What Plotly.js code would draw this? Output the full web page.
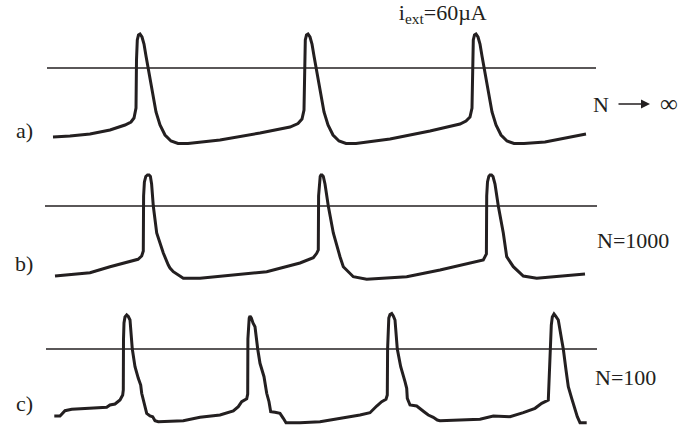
<!DOCTYPE html>
<html>
<head>
<meta charset="utf-8">
<script src="https://cdn.plot.ly/plotly-3.0.1.min.js"></script>
<style>html,body{margin:0;padding:0;background:#fff;}#plot{width:694px;height:432px;}</style>
</head>
<body>
<div id="plot"></div>
<script>
// time (arbitrary units) and membrane potential (mV, relative to threshold line)
var tA = [6,23,43,63,78,84,87,89,
  89.5,90.3,91.5,93,95,97,99,101,105,109,113,118,124,131,141,
  173,213,243,251,255,257,
  257.5,258.3,259.5,261,263,265,267,269,273,277,281,286,292,299,309,
  343,383,413,419,423,425,
  425.5,426.3,427.5,429,431,433,435,437,441,445,449,454,460,467,477,
  498,539];
var vA = [-69,-68,-66,-62,-57,-54,-50,-40,
  8,28,33,34,31,24,12,0,-24,-44,-57,-67,-73,-75.5,-75.5,
  -72,-65,-59,-55.5,-51,-42,
  8,28,33,34,31,24,12,0,-24,-44,-57,-67,-73,-75.5,-75.5,
  -71,-63,-56,-53,-49,-40,
  8,28,33,34,31,24,12,0,-24,-44,-57,-67,-73,-75.5,-75.5,
  -74,-66];

var tB = [8,43,63,91,94.7,96.3,
  96.6,97.4,98.8,100.5,102,103.4,104.6,106.3,109.7,116.3,121.3,123,126.3,136.3,153,
  219.7,253,266.3,269.7,271.3,
  271.6,272.3,273.2,274,275,276.3,278,281.3,286.3,293,296.3,306.3,319.7,
  359.7,393,436.3,439.4,
  439.7,440.5,441.8,443,444.5,446,448,451.3,456.3,459.7,466.3,476.3,489.7,509.7,538];
var vB = [-70,-66.7,-60.7,-53.3,-50,-45,
  10,24,29.5,31,31,29.5,22,0,-27,-47,-59,-62,-65.7,-72.3,-72.3,
  -65.7,-57,-51.7,-47.3,-44,
  10,24,29.5,31,31,29.5,22,0,-27,-50.7,-60.7,-70.7,-73.3,
  -70.7,-64,-54,-48,
  10,24,29.5,31,31,29.5,22,0,-27,-50.7,-60.7,-70,-72.3,-70.7,-68];

var tC = [7.3,13,18,24.7,59.7,63,68,73,75.7,76.3,
  76.5,77,78,79.7,81.3,83,85.3,88,91.3,93.7,94.7,96.3,98,99.7,103,105.7,108,111.3,136.3,153,173,186.3,191.3,194.7,199.7,200.7,
  200.9,201.4,202.2,203,204.3,206,208,210.7,213,217,219.7,222,223.7,228,233,236.3,239,253,273,313,323,329.7,334.7,339,340.3,
  340.6,341,341.8,343,344.7,346.3,348,350.3,353.7,358,359.7,360.3,363,369.7,373,377,381.3,386.3,390.3,393,433,446.3,463,476.3,488,494.7,501.3,502,503.7,
  504.3,505.3,507,508.5,511.3,514.7,516.3,519,521.3,524.7,528,530.3,533,539.7];
var vC = [-67,-67,-61.7,-60.3,-58.3,-56,-55,-51,-46,-41,
  10,26,32,34,32.5,29,0,-17.7,-29.3,-36,-44.3,-51,-57.7,-64.3,-67,-67.7,-71.7,-72.7,-71.7,-68.3,-66,-62,-57.7,-52.7,-49.7,-45,
  10,25,31,33,31,26,22.3,0,-14.3,-27.7,-44.3,-52.7,-62.7,-63.3,-64.3,-69.3,-73.7,-73.7,-72.7,-66,-63.7,-57,-52.7,-50.3,-46,
  0,22,31,34.5,35.5,33,29,0,-17.7,-32.7,-39.3,-49.3,-56,-57,-59.3,-62.7,-66,-68.3,-71,-71.7,-70.3,-67,-67.7,-63.7,-59.3,-54.3,-51,-31,2.3,
  24,32,35,33,29,9,0,-21,-37.7,-49.3,-61,-67.7,-73.7,-73.7];

// threshold lines (time span, level)
var thrA_t = [0, 549], thrB_t = [-2, 550], thrC_t = [-1, 550];
var thrLevel = [0, 0];

var panelLabels = ['a)', 'b)', 'c)'];
var sizeLabels = ['N', 'N=1000', 'N=100'];
var infinityLabel = '\u221E';
var titleText = 'i<sub>ext</sub>=60\u00B5A';

var ink = '#231f20';
var serif = 'Liberation Serif, Times New Roman, serif';
var spike = {color: ink, width: 3, shape: 'linear'};
var thin = {color: ink, width: 1.5};

var data = [
  {x: thrA_t, y: thrLevel, xaxis: 'x', yaxis: 'y', mode: 'lines', line: thin, hoverinfo: 'skip'},
  {x: thrB_t, y: thrLevel, xaxis: 'x', yaxis: 'y2', mode: 'lines', line: thin, hoverinfo: 'skip'},
  {x: thrC_t, y: thrLevel, xaxis: 'x', yaxis: 'y3', mode: 'lines', line: thin, hoverinfo: 'skip'},
  {x: tA, y: vA, xaxis: 'x', yaxis: 'y', mode: 'lines', line: spike},
  {x: tB, y: vB, xaxis: 'x', yaxis: 'y2', mode: 'lines', line: spike},
  {x: tC, y: vC, xaxis: 'x', yaxis: 'y3', mode: 'lines', line: spike}
];

var hidden = {visible: false, fixedrange: true};
var textFont = {family: serif, size: 22, color: ink};
var notes = [
  {text: panelLabels[0], x: 0.0346, y: 0.699},
  {text: panelLabels[1], x: 0.0346, y: 0.391},
  {text: panelLabels[2], x: 0.0346, y: 0.067},
  {text: sizeLabels[0], x: 0.8516, y: 0.759, xanchor: 'left'},
  {text: sizeLabels[1], x: 0.857, y: 0.444, xanchor: 'left'},
  {text: sizeLabels[2], x: 0.8545, y: 0.127, xanchor: 'left'},
  {text: infinityLabel, x: 0.964, y: 0.761, font: {family: serif, size: 25, color: ink}}
].map(function (a) {
  return Object.assign({xref: 'paper', yref: 'paper', showarrow: false, xanchor: 'center', yanchor: 'middle',
    font: textFont}, a);
});
// the arrow in "N -> infinity"
notes.push({xref: 'paper', yref: 'paper', x: 0.9366, y: 0.759, text: '', showarrow: true,
  ax: -33, ay: 0, arrowhead: 2, arrowsize: 1.2, arrowwidth: 1.5, arrowcolor: ink, standoff: 0});

var layout = {
  width: 694, height: 432,
  margin: {l: 0, r: 0, t: 0, b: 0},
  paper_bgcolor: '#fff', plot_bgcolor: 'rgba(0,0,0,0)',
  showlegend: false,
  title: {text: titleText, x: 0.638, xanchor: 'center', xref: 'paper', y: 0.972, yanchor: 'middle', yref: 'paper',
          font: textFont},
  xaxis: Object.assign({range: [-47, 647]}, hidden),
  yaxis: Object.assign({range: [-100, 50], domain: [0.61111, 0.95833]}, hidden),
  yaxis2: Object.assign({range: [-100, 50], domain: [0.29167, 0.63889]}, hidden),
  yaxis3: Object.assign({range: [-82, 50], domain: [0.002315, 0.30787]}, hidden),
  annotations: notes
};

Plotly.newPlot('plot', data, layout, {staticPlot: true, displayModeBar: false});
</script>
</body>
</html>
